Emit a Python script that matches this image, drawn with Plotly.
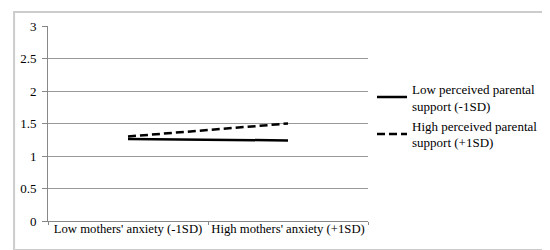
import plotly.graph_objects as go

categories = ["Low mothers' anxiety (-1SD)", "High mothers' anxiety (+1SD)"]
low_support = [1.26, 1.24]
high_support = [1.30, 1.50]

fig = go.Figure()

fig.add_trace(go.Scatter(
    x=categories, y=low_support,
    name="Low perceived parental<br>support (-1SD)",
    mode="lines", line=dict(color="black", width=2.5)))

fig.add_trace(go.Scatter(
    x=categories, y=high_support,
    name="High perceived parental<br>support (+1SD)",
    mode="lines", line=dict(color="black", width=2.5, dash="8px,4px")))

fig.update_xaxes(
    type="category", range=[-0.5, 1.5], tickson="boundaries", ticks="outside",
    ticklen=3, tickcolor="#888888", showline=True, linecolor="#888888",
    linewidth=1, showgrid=False, automargin=False, tickangle=0,
    ticklabelstandoff=-4, tickfont=dict(size=12.7))

fig.update_yaxes(
    range=[0, 3], dtick=0.5, ticks="outside", ticklen=5, tickcolor="#888888",
    showline=True, linecolor="#888888", linewidth=1, automargin=False,
    ticklabelstandoff=3,
    gridcolor="#999999", gridwidth=1, zeroline=False, tickfont=dict(size=13))

# outer border around the whole chart
fig.add_shape(type="rect", xref="paper", yref="paper",
              x0=-0.106, x1=1.5625, y0=-0.1487, y1=1.0718,
              line=dict(color="#cccccc", width=2))

fig.update_layout(
    width=550, height=250,
    margin=dict(l=40, r=190, t=18, b=37, autoexpand=False),
    plot_bgcolor="white", paper_bgcolor="white",
    font=dict(family="Liberation Serif", size=13, color="black"),
    legend=dict(x=1.0125, y=0.54, xanchor="left", yanchor="middle",
                font=dict(size=13)),
    showlegend=True)

fig.write_html("out.html")
